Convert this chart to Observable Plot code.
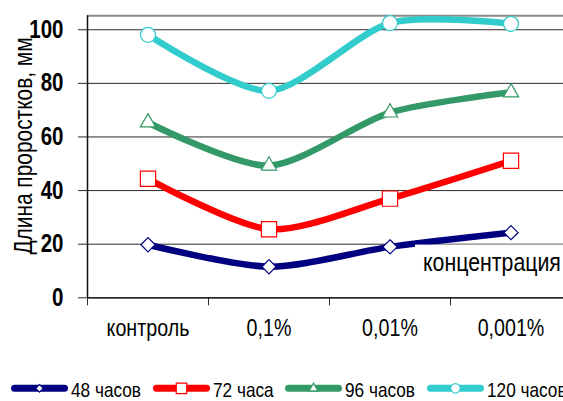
<!DOCTYPE html>
<html>
<head>
<meta charset="utf-8">
<script src="https://cdn.jsdelivr.net/npm/d3@7"></script>
<script src="https://cdn.jsdelivr.net/npm/@observablehq/plot@0.6"></script>
<style>
  html, body { margin: 0; padding: 0; background: #fff; overflow: hidden; width: 563px; height: 401px; }
  #chart svg, #legend svg { display: block; }
</style>
</head>
<body>
<div id="chart"></div>
<div id="legend"></div>
<script>
const categories = ["контроль", "0,1%", "0,01%", "0,001%"];
const seriesNames = ["48 часов", "72 часа", "96 часов", "120 часов"];
const h48  = [19.8, 11.6, 19.0, 24.3];
const h72  = [44.4, 25.6, 37.0, 51.1];
const h96  = [65.4, 49.3, 69.1, 76.6];
const h120 = [98.1, 77.2, 102.5, 102.2];
const seriesValues = [h48, h72, h96, h120];
const colors = ["#000080", "#ff0000", "#339966", "#33cccc"];
const symbols = ["diamond2", "square2", "triangle2", "circle"];
const markerR = [6.4, 9.7, 7.3, 7.5];
const yTicks = [0, 20, 40, 60, 80, 100];
const yMax = 105.2;
const yTitle = "Длина проростков, мм";
const xTitle = "концентрация";

const FONT = "'Liberation Sans', Arimo, Arial, sans-serif";
const NARROW = 0.82;

const rows = seriesNames.flatMap((s, i) =>
  categories.map((c, j) => ({ series: s, cat: c, xi: j + 0.5, value: seriesValues[i][j] }))
);

const lineMarks = seriesNames.map((s, i) =>
  Plot.line(rows.filter(d => d.series === s), {
    x: "xi", y: "value", stroke: colors[i], strokeWidth: 6.5, curve: "cardinal", tension: 0.2,
    strokeLinecap: "round", strokeLinejoin: "round"
  })
);
const dotMarks = seriesNames.map((s, i) =>
  Plot.dot(rows.filter(d => d.series === s), {
    x: "xi", y: "value", symbol: () => symbols[i], r: markerR[i],
    fill: "white", stroke: colors[i], strokeWidth: 1.2
  })
);

const annotation = (index, scales, values, dimensions) => {
  const g = d3.create("svg:g");
  g.append("rect").attr("x", 415).attr("y", 244.6).attr("width", 160).attr("height", 38).attr("fill", "white");
  g.append("text").attr("transform", `translate(423,271) scale(${NARROW},1)`).attr("text-anchor", "start")
    .attr("font-size", 26).attr("fill", "#000").attr("font-family", FONT).text(xTitle);
  g.append("text").attr("transform", `translate(32,146) rotate(-90) scale(${NARROW},1)`).attr("text-anchor", "middle")
    .attr("font-size", 25.5).attr("fill", "#000").attr("font-family", FONT).text(yTitle);
  return g.node();
};

const plot = Plot.plot({
  width: 563,
  height: 360,
  marginTop: 15.3,
  marginBottom: 62.7,
  marginLeft: 87,
  marginRight: 0,
  style: { fontFamily: FONT, background: "white", color: "#000" },
  x: { domain: [0, 4], range: [87, 571] },
  y: { domain: [0, yMax], range: [297.3, 15.3] },
  marks: [
    Plot.gridY(yTicks, { stroke: "#2a2a2a", strokeOpacity: 1, strokeWidth: 1 }),
    Plot.ruleY([yMax], { stroke: "#8a8a8a", strokeWidth: 2 }),
    Plot.axisY({ ticks: yTicks, tickSize: 9, tickPadding: 15, fontSize: 25, fontWeight: "bold",
                 stroke: "#2a2a2a", label: null }),
    Plot.axisX({ ticks: [0, 1, 2, 3], tickSize: 8, tickFormat: () => "", stroke: "#2a2a2a", label: null }),
    Plot.axisX({ ticks: categories.map((c, j) => j + 0.5), tickSize: 0, tickPadding: 21, fontSize: 24,
                 tickFormat: v => categories[Math.round(v - 0.5)], label: null }),
    Plot.ruleY([0], { stroke: "#111", strokeWidth: 1.3 }),
    Plot.ruleX([0], { stroke: "#111", strokeWidth: 1.5 }),
    ...lineMarks,
    annotation,
    ...dotMarks
  ]
});

// Condense axis tick labels horizontally (Arial Narrow look)
d3.select(plot).selectAll("g[aria-label$='tick label'] text").each(function () {
  const t = d3.select(this);
  let tr = t.attr("transform");
  if (!tr) {
    const x = +t.attr("x") || 0, y = +t.attr("y") || 0;
    t.attr("x", null).attr("y", null);
    tr = `translate(${x},${y})`;
  }
  t.attr("transform", `${tr} scale(${NARROW},1)`);
});
document.getElementById("chart").appendChild(plot);

// Legend
const legendLineX = [11, 153, 285, 427];
const legendSymbolSize = [7.5, 10.5, 9, 9.5];
const symMap = { diamond2: d3.symbolDiamond2, square2: d3.symbolSquare2, triangle2: d3.symbolTriangle2, circle: d3.symbolCircle };
const lsvg = d3.select("#legend").append("svg").attr("width", 563).attr("height", 41)
  .attr("font-family", FONT).attr("font-size", 21);
seriesNames.forEach((s, i) => {
  const x0 = legendLineX[i];
  const g = lsvg.append("g").attr("transform", `translate(${x0},28.3)`);
  g.append("line").attr("x1", 3.5).attr("x2", 53.5).attr("y1", 0).attr("y2", 0)
    .attr("stroke", colors[i]).attr("stroke-width", 7).attr("stroke-linecap", "round");
  const w = legendSymbolSize[i];
  let size;
  if (symbols[i] === "circle") size = Math.PI * (w / 2) ** 2;
  else if (symbols[i] === "square2") size = (w / 0.8862) ** 2;
  else if (symbols[i] === "diamond2") size = (w / 1.2525) ** 2;
  else size = (w / 1.182) ** 2;
  g.append("path").attr("transform", "translate(28.5,0)")
    .attr("d", d3.symbol(symMap[symbols[i]], size)())
    .attr("fill", "white").attr("stroke", colors[i]).attr("stroke-width", 1.2);
  g.append("text").attr("transform", `translate(60,8.5) scale(${NARROW},1)`).attr("fill", "#000").text(s);
});
</script>
</body>
</html>
